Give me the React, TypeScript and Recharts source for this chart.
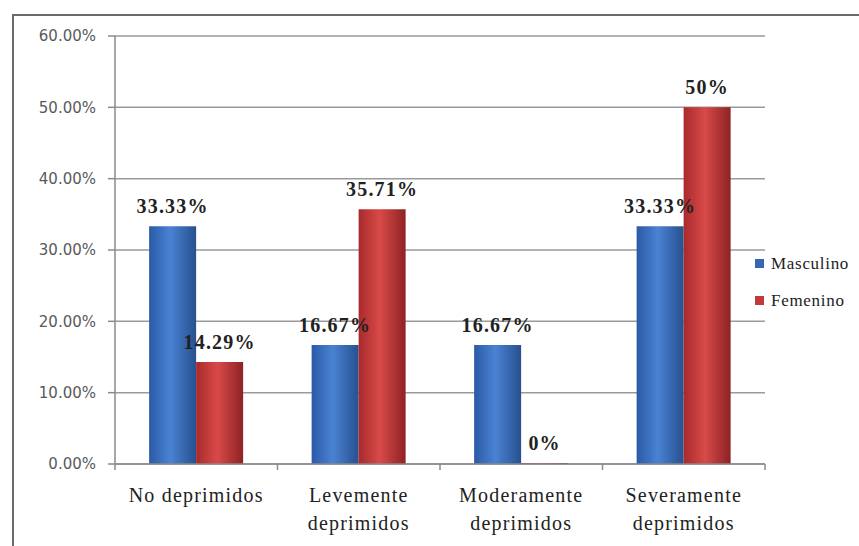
import { BarChart, Bar, XAxis, YAxis, CartesianGrid, LabelList, Text } from 'recharts';

const categories = ['No deprimidos', 'Levemente deprimidos', 'Moderamente deprimidos', 'Severamente deprimidos'];
const masculino = [33.33, 16.67, 16.67, 33.33];
const femenino = [14.29, 35.71, 0, 50];
const yTicks = [0, 10, 20, 30, 40, 50, 60];

const data = categories.map((name, i) => ({ name, masculino: masculino[i], femenino: femenino[i] }));

const SERIES = [
  { key: 'masculino', label: 'Masculino', fill: 'url(#gradBlue)', swatch: '#3567b5' },
  { key: 'femenino', label: 'Femenino', fill: 'url(#gradRed)', swatch: '#c2393b' },
];

const serif = '"Liberation Serif", Tinos, "Times New Roman", "DejaVu Serif", serif';
const TICK_MARGIN = 24;

const fmtLabel = (v: number) => (Number.isInteger(v) ? `${v}%` : `${v.toFixed(2)}%`);

// category label plus the small boundary marks Excel draws between categories
const CategoryTick = ({ x, y, payload, index }: any) => {
  const half = payload?.offset ?? 0;
  const axisY = y - TICK_MARGIN;
  return (
    <g>
      {half > 0 && (
        <line x1={x - half} x2={x - half} y1={axisY} y2={axisY + 6} stroke="#8a8a8a" strokeWidth={1.5} />
      )}
      {half > 0 && index === categories.length - 1 && (
        <line x1={x + half} x2={x + half} y1={axisY} y2={axisY + 6} stroke="#8a8a8a" strokeWidth={1.5} />
      )}
      <Text
        x={x}
        y={y}
        width={140}
        textAnchor="middle"
        verticalAnchor="start"
        lineHeight={28}
        style={{ fontFamily: serif, fontSize: 20, letterSpacing: 1.2 }}
        fill="#222"
      >
        {payload.value}
      </Text>
    </g>
  );
};

export default function App() {
  return (
    <div style={{ position: 'absolute', left: 0, top: 0, width: 859, height: 546, background: '#fff' }}>
      {/* outer chart frame, only top and left edges fall inside the image */}
      <div
        style={{
          position: 'absolute',
          left: 12,
          top: 14,
          width: 860,
          height: 540,
          borderTop: '2px solid #6a6a6a',
          borderLeft: '2px solid #6a6a6a',
        }}
      />
      <BarChart
        width={859}
        height={546}
        data={data}
        margin={{ top: 36, right: 94, bottom: 52, left: 0 }}
        barCategoryGap="21%"
        barGap={0}
        style={{ position: 'absolute', left: 0, top: 0 }}
      >
        <defs>
          <linearGradient id="gradBlue" x1="0" y1="0" x2="1" y2="0">
            <stop offset="0%" stopColor="#2b5aa6" />
            <stop offset="45%" stopColor="#4a82d3" />
            <stop offset="100%" stopColor="#27508f" />
          </linearGradient>
          <linearGradient id="gradRed" x1="0" y1="0" x2="1" y2="0">
            <stop offset="0%" stopColor="#a82a2c" />
            <stop offset="45%" stopColor="#d84a48" />
            <stop offset="100%" stopColor="#8e2224" />
          </linearGradient>
        </defs>
        <CartesianGrid vertical={false} stroke="#9a9a9a" strokeWidth={1.5} />
        <XAxis
          dataKey="name"
          axisLine={{ stroke: '#8a8a8a', strokeWidth: 1.5 }}
          tickLine={false}
          tickSize={0}
          tickMargin={TICK_MARGIN}
          interval={0}
          tick={<CategoryTick />}
        />
        <YAxis
          width={115}
          domain={[0, 60]}
          ticks={yTicks}
          tickFormatter={(v: number) => `${v.toFixed(2)}%`}
          axisLine={{ stroke: '#8a8a8a', strokeWidth: 1.5 }}
          tickLine={{ stroke: '#8a8a8a', strokeWidth: 1.5 }}
          tickSize={7}
          tickMargin={12}
          tick={{ fontFamily: '"DejaVu Sans", sans-serif', fontSize: 15, fill: '#5a5a5a' }}
        />
        {SERIES.map((s) => (
          <Bar key={s.key} dataKey={s.key} name={s.label} fill={s.fill} minPointSize={1} isAnimationActive={false}>
            <LabelList
              dataKey={s.key}
              position="top"
              offset={13}
              formatter={fmtLabel}
              style={{ fontFamily: serif, fontSize: 20, fontWeight: 'bold', fill: '#222', letterSpacing: 1.2 }}
            />
          </Bar>
        ))}
      </BarChart>
      {/* legend */}
      <div
        style={{
          position: 'absolute',
          left: 755,
          top: 245,
          fontFamily: serif,
          fontSize: 17,
          color: '#222',
          letterSpacing: 0.7,
        }}
      >
        {SERIES.map((s) => (
          <div key={s.key} style={{ display: 'flex', alignItems: 'center', height: 37 }}>
            <span style={{ width: 9, height: 9, background: s.swatch, marginRight: 7, display: 'inline-block' }} />
            {s.label}
          </div>
        ))}
      </div>
    </div>
  );
}
